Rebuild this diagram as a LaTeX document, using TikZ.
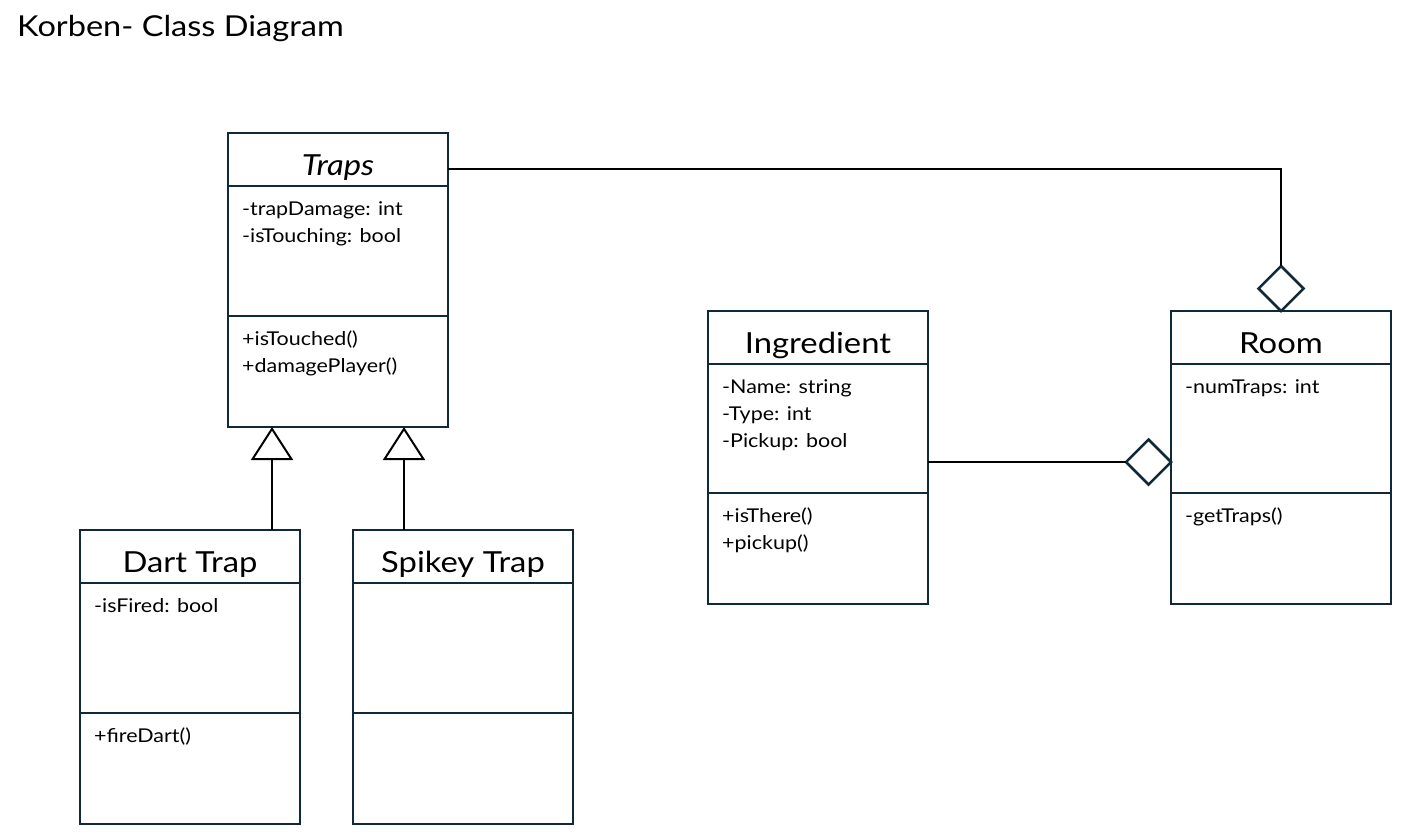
\documentclass[tikz,border=0pt]{standalone}
\usepackage{fontspec}
\setmainfont{Lato}[FakeStretch=1.13]
\usetikzlibrary{arrows.meta, positioning, shapes.geometric, calc}
\definecolor{umlline}{HTML}{10293A}

\begin{document}
\begin{tikzpicture}[
    x=1pt, y=-1pt,
    head/.style={draw=umlline, line width=2.5pt, minimum width=220pt, minimum height=53pt,
                 outer sep=0pt, inner sep=0pt, text height=42pt, text depth=11pt,
                 font=\fontsize{29}{34}\selectfont},
    attr/.style={draw=umlline, line width=2.5pt, minimum width=220pt, minimum height=#1,
                 outer sep=0pt, inner sep=0pt},
    attr/.default=130pt,
    member/.style={anchor=north west, inner sep=0pt, align=left, font=\fontsize{19}{27}\selectfont},
    link/.style={line width=2pt, black},
    inherit/.style={link, -{Triangle[open, length=33pt, width=42pt]}},
    agg/.style={diamond, draw=umlline, fill=white, line width=2.5pt, minimum size=45pt,
                inner sep=0pt, outer sep=0pt}
  ]
  \useasboundingbox (0,0) rectangle (1414,839);

  \node[anchor=base west, inner sep=0pt, font=\fontsize{28.8}{34}\selectfont] (title) at (17,36) {Korben- Class Diagram};

  % Traps
  \node[head] (trapsH) at (338,159.5) {\textit{Traps}};
  \node[attr, below=0pt of trapsH] (trapsA) {};
  \node[attr=111pt, below=0pt of trapsA] (trapsM) {};
  \node[member] (trapsAt) at ([shift={(14pt,-15pt)}]trapsA.north west) {-trapDamage: int\\-isTouching: bool};
  \node[member] (trapsMt) at ([shift={(14pt,-15pt)}]trapsM.north west) {+isTouched()\\+damagePlayer()};

  % Dart Trap
  \node[head] (dartH) at (190,556.5) {Dart Trap};
  \node[attr, below=0pt of dartH] (dartA) {};
  \node[attr=111pt, below=0pt of dartA] (dartM) {};
  \node[member] (dartAt) at ([shift={(14pt,-15pt)}]dartA.north west) {-isFired: bool};
  \node[member] (dartMt) at ([shift={(14pt,-15pt)}]dartM.north west) {+fireDart()};

  % Spikey Trap
  \node[head] (spikeH) at (463,556.5) {Spikey Trap};
  \node[attr, below=0pt of spikeH] (spikeA) {};
  \node[attr=111pt, below=0pt of spikeA] (spikeM) {};

  % Ingredient
  \node[head] (ingH) at (818,337.5) {Ingredient};
  \node[attr=129pt, below=0pt of ingH] (ingA) {};
  \node[attr=111pt, below=0pt of ingA] (ingM) {};
  \node[member] (ingAt) at ([shift={(14pt,-15pt)}]ingA.north west) {-Name: string\\-Type: int\\-Pickup: bool};
  \node[member] (ingMt) at ([shift={(14pt,-15pt)}]ingM.north west) {+isThere()\\+pickup()};

  % Room
  \node[head] (roomH) at (1281,337.5) {Room};
  \node[attr=129pt, below=0pt of roomH] (roomA) {};
  \node[attr=111pt, below=0pt of roomA] (roomM) {};
  \node[member] (roomAt) at ([shift={(14pt,-15pt)}]roomA.north west) {-numTraps: int};
  \node[member] (roomMt) at ([shift={(14pt,-15pt)}]roomM.north west) {-getTraps()};

  % inheritance
  \coordinate (tipL) at ($(trapsM.south west)!0.2!(trapsM.south east)$);
  \coordinate (tipR) at ($(trapsM.south west)!0.8!(trapsM.south east)$);
  \draw[inherit] (dartH.north -| tipL) -- (tipL);
  \draw[inherit] (spikeH.north -| tipR) -- (tipR);

  % aggregation
  \coordinate (aggY) at (0,462);
  \node[agg, anchor=south] (roomD) at (roomH.north) {};
  \node[agg, anchor=east] (ingD) at (roomA.west |- aggY) {};
  \draw[link] ([yshift=-9.5pt]trapsH.east) -| (roomD.north);
  \draw[link] (ingA.east |- ingD.west) -- (ingD.west);

\end{tikzpicture}
\end{document}
